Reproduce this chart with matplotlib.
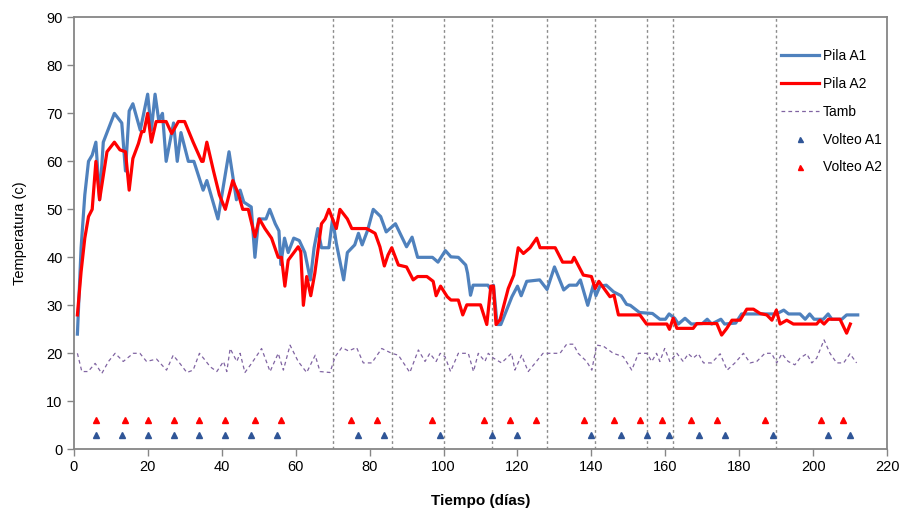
import matplotlib
matplotlib.use("Agg")
import matplotlib.pyplot as plt

plt.rcParams['font.family'] = ['Liberation Sans', 'DejaVu Sans']

# Pila A1 (dia, temperatura)
a1_dia = [1, 2, 3, 4, 5, 6, 7, 8, 9, 11, 13, 14, 15, 16, 18, 20, 21, 22, 23, 24, 25, 27, 28, 29, 31, 32.5,
          35, 36, 39, 42, 44, 45, 46, 48, 49, 50, 52, 53, 54.5, 55.5, 56, 57, 58, 59.5, 61, 62.5, 64, 65,
          66, 67, 69, 70, 71, 73, 74, 76, 77, 78, 79.5, 81, 83, 84.5, 87, 88.5, 90, 91.5, 93, 97, 98.5,
          100.5, 102, 104, 106, 106.5, 107.3, 108, 112, 112.6, 113.5, 114.5, 115.5, 118.5, 120, 121,
          122.5, 126, 128, 130, 132.5, 134, 136, 137, 139, 140.5, 141.2, 142.3, 144, 146, 148, 149.5,
          150.5, 151.5, 153, 156.5, 158.5, 160, 161, 162.5, 163.5, 165.3, 167, 170, 171.3, 172.5, 175,
          176, 179, 180.6, 190, 192, 193.3, 196.4, 197.8, 199, 200.2, 202.7, 204, 205, 207.7, 209, 212]
a1_temp = [24, 42, 53, 60, 61.3, 64, 52, 64, 66, 70, 68, 58, 70.5, 72, 66.5, 74, 66.5, 74, 68.5, 70, 60, 68,
           60, 66, 60, 60, 54, 56, 48, 62, 52, 54, 51.5, 50.5, 40, 48, 48, 50, 47, 45.5, 38.5, 44, 41, 44,
           43.5, 41, 35.3, 42, 46, 42, 42, 48, 43, 35.3, 41, 42.6, 45, 42.6, 45.7, 50, 48.5, 45.3, 47,
           44.6, 42.2, 44.2, 40, 40, 39, 41.4, 40.1, 40, 38.4, 36.7, 32.1, 34.2, 34.2, 33.5, 34.2, 26, 26,
           31.8, 34, 32, 35, 35.3, 33.3, 38, 33.2, 34.2, 34.2, 35.3, 30, 34.2, 32, 34, 34.2, 32.8, 32,
           30.2, 30, 29.4, 28.5, 28.3, 27.1, 27.1, 28.2, 27.3, 26.1, 27.3, 26.1, 26.2, 27.1, 26.1, 27.1,
           26.1, 26.3, 28.2, 28.2, 29, 28.2, 28.2, 27.1, 28.2, 27.1, 27.1, 28.2, 27.1, 27.1, 28, 28]

# Pila A2
a2_dia = [1, 2, 3, 4, 5, 6, 7, 9, 11, 12.5, 14, 15, 16, 17.5, 18.4, 19, 20, 21, 22.3, 25, 26.5, 28.3, 30,
          32.3, 34.6, 35, 36, 37.8, 39.4, 41, 43, 44.5, 45.7, 47.2, 49, 50.2, 51.7, 53.5, 55.3, 56.2,
          57.1, 58, 60.7, 61.4, 62.1, 63, 64.1, 65.2, 67, 68, 69, 71, 72, 74, 75.2, 79.2, 81.5, 82.8,
          84, 85, 86, 87.8, 90, 91.8, 93, 95.5, 97.2, 98, 99.2, 101, 102, 104, 105.2, 106.3, 110, 111.7,
          112.8, 113.5, 114.2, 115.3, 117.5, 119, 120.2, 121.6, 123.4, 125.2, 126.1, 130.2, 132.2, 134.7,
          135.3, 137.8, 140, 141, 142, 143.7, 145, 146.1, 147.3, 153.1, 154.9, 160.4, 161.1, 162.1,
          163.1, 167.5, 168.5, 173.9, 175.2, 176.6, 178, 180.2, 182, 183.8, 185.6, 187.4, 188.8, 190,
          191, 192.8, 194.6, 200.9, 201.8, 202.9, 204.1, 207.2, 209, 210]
a2_temp = [28, 37, 44, 48.5, 50, 60, 52, 62, 64, 62.4, 62, 54, 60.6, 63.7, 66.2, 66.2, 70, 64, 68.3, 68.3,
           65.8, 68.3, 68.3, 64, 60, 60, 64, 58, 53, 50, 56, 53.3, 50, 50, 44.3, 48, 46, 44, 40, 40, 34,
           39.4, 42.2, 41.2, 30, 36, 32, 36.7, 47, 48, 50, 46, 50, 48, 46, 46, 45, 42.2, 38.2, 40.5, 42,
           38.4, 38, 35.3, 36, 36, 35, 32, 34, 31.8, 31.1, 31.1, 28, 30.1, 30.1, 26, 34, 34, 26, 27, 33.5,
           36.3, 42, 40.8, 42, 44, 42, 42, 39, 39, 40, 36.3, 36, 33.5, 35, 33.2, 31.8, 32.1, 28, 28, 26.1,
           26.1, 25, 27.3, 25.2, 25.2, 26.2, 26.2, 23.8, 25.2, 26.9, 26.9, 29.2, 29.2, 28.3, 28, 26.9, 29,
           26.1, 26.9, 26.1, 26.1, 26.9, 26.1, 27.1, 27.1, 24.2, 26.1]

# Temperatura ambiente
tamb_dia = [1, 2.2, 3.9, 5.8, 7.6, 9.4, 11.2, 13.4, 16.1, 17.9, 19.7, 22.4, 25.1, 26.9, 28.7, 30.6, 32.3,
            34, 35.5, 36.9, 38.7, 40.5, 41.4, 42.3, 44.1, 45, 46.3, 48.1, 50.8, 53.1, 55.3, 56.7, 58.5,
            60.7, 63, 65.3, 66.6, 69.3, 70.7, 72.5, 74.3, 76.5, 78.3, 80.6, 83.3, 86, 87.8, 90.9, 93.2,
            95, 96.3, 98, 99.1, 100.4, 101.9, 104, 106.7, 108.1, 109.4, 111.2, 112.1, 113.5, 115.7,
            118.4, 119.3, 121.1, 122.9, 126.9, 131.5, 133.3, 135.1, 136.4, 138.7, 140.1, 141.4, 143.2,
            145.9, 148.6, 150.9, 152.7, 155, 156.3, 157.6, 158.5, 159.8, 161.2, 163.1, 164.8, 166.2,
            167.5, 168.9, 170.3, 172.5, 174.8, 176.7, 178.8, 181.1, 182.9, 184.7, 186.9, 188.7, 190.1,
            191.5, 193.2, 195, 196.4, 198.2, 199.6, 200.9, 202.9, 204.5, 206.3, 208.2, 209.9, 211.7]
tamb_temp = [20, 16.2, 16.2, 17.9, 15.8, 18.3, 20, 18.3, 20, 20, 18.3, 18.8, 16.5, 19.6, 17.9, 16, 16.5,
             20, 18.6, 17.2, 16.2, 18.3, 16.2, 21, 18.3, 20, 16, 17.9, 21, 16.2, 20, 16.5, 21.7, 18.3, 16,
             19.6, 16.2, 16, 19.3, 21.2, 20.5, 21.2, 18, 18, 21, 20, 19.6, 16, 20.7, 18.3, 20, 18.3, 20,
             19.3, 16.2, 20, 20, 16.2, 20, 18.3, 20, 19, 18, 20, 16.5, 19.6, 16.2, 20, 20, 21.9, 21.9, 20,
             18.3, 16.5, 21.7, 21.5, 20, 19.3, 16.5, 20, 20, 18.3, 20, 18.3, 21, 18.3, 20, 18.3, 19.9, 19,
             19.9, 18, 18, 19.9, 16.5, 18, 20, 18, 18.3, 20, 20, 18, 19.9, 18.3, 17.6, 19, 19.9, 18, 19,
             22.8, 20, 18, 18, 19.9, 18]

# volteos
volteo_a1 = [6, 13, 20, 27, 34, 41, 48, 55, 77, 84, 99, 113, 120, 140, 148, 155, 161, 169, 176, 189, 204, 210]
volteo_a2 = [6, 14, 20, 27, 34, 41, 49, 56, 75, 82, 97, 111, 118, 125, 138, 146, 153, 159, 167, 174, 187, 202, 208]
nivel_a1 = 3
nivel_a2 = 6

# lineas verticales punteadas
cortes = [70, 86, 100, 113, 128, 141, 155, 162, 190]

fig = plt.figure(figsize=(9.01, 5.12), dpi=100)
ax = fig.add_axes([0.0818, 0.1225, 0.9848 - 0.0818, 0.966 - 0.1225])

for c in cortes:
    ax.axvline(c, color='#8c8c8c', lw=1, ls=(0, (2, 2)), zorder=1)

ax.plot(a1_dia, a1_temp, color='#4F81BD', lw=2.3, label='Pila A1', solid_joinstyle='round', zorder=3)
ax.plot(a2_dia, a2_temp, color='#FF0000', lw=2.3, label='Pila A2', solid_joinstyle='round', zorder=4)
ax.plot(tamb_dia, tamb_temp, color='#8064A2', lw=0.9, ls=(0, (3, 2.5)), label='Tamb', zorder=2)
ax.plot(volteo_a1, [nivel_a1] * len(volteo_a1), ls='none', marker='^', ms=4, color='#2F5597',
        label='Volteo A1', zorder=5)
ax.plot(volteo_a2, [nivel_a2] * len(volteo_a2), ls='none', marker='^', ms=4, color='#FF0000',
        label='Volteo A2', zorder=5)

ax.set_xlim(0, 220)
ax.set_ylim(0, 90)
ax.set_xticks(range(0, 221, 20))
ax.set_yticks(range(0, 91, 10))
ax.tick_params(direction='out', length=5, width=1, color='#868686', labelsize=10.5, pad=3)
for s in ax.spines.values():
    s.set_color('#868686')
    s.set_linewidth(1.3)

ax.set_xlabel('Tiempo (días)', fontsize=11, fontweight='bold', labelpad=14)
ax.set_ylabel('Temperatura (c)', fontsize=10.5, labelpad=14)

ax.legend(loc='upper right', bbox_to_anchor=(1.0, 0.94), frameon=False, fontsize=10,
          handlelength=2.7, handletextpad=0.3, labelspacing=1.0, borderaxespad=0, markerscale=0.9)

plt.savefig('out.png', dpi=100)
